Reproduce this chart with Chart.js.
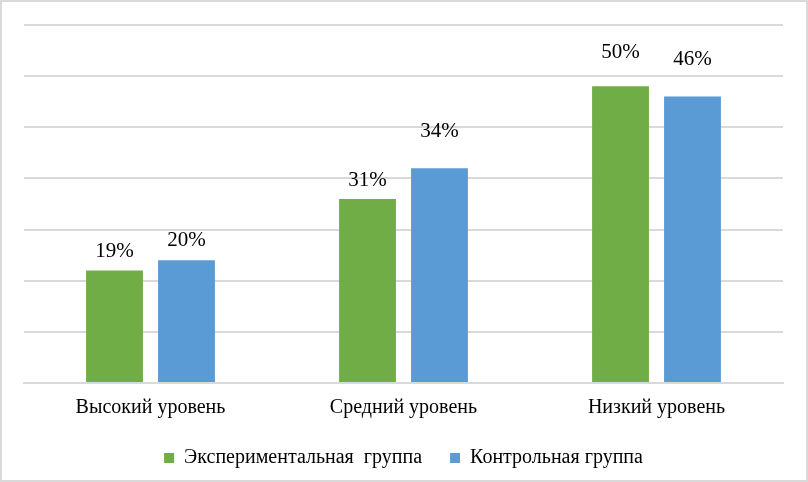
<!DOCTYPE html>
<html>
<head>
<meta charset="utf-8">
<script src="https://cdn.jsdelivr.net/npm/chart.js@4"></script>
<style>
  html, body { margin: 0; padding: 0; background: #fff; }
  #chart-container { width: 808px; height: 482px; }
</style>
</head>
<body>
<div id="chart-container"><canvas id="chart" width="808" height="482"></canvas></div>
<script>
const categories = ["Высокий уровень", "Средний уровень", "Низкий уровень"];
const seriesNames = ["Экспериментальная  группа", "Контрольная группа"];
// bar heights (axis units, grid step 10)
const experimentalValues = [22, 36, 58];
const controlValues = [24, 42, 56];
// data label texts as printed above the bars
const experimentalLabels = ["19%", "31%", "50%"];
const controlLabels = ["20%", "34%", "46%"];

// label distance above each bar top, px (labels were moved by hand in the source)
const labelOffsets = [[13, 13, 28], [14, 31, 32]];
const serif = "'Liberation Serif', 'Times New Roman', serif";

const frame = {
  id: "frame",
  beforeDraw(chart) {
    const ctx = chart.ctx;
    ctx.save();
    ctx.fillStyle = "#fff";
    ctx.fillRect(0, 0, chart.width, chart.height);
    ctx.strokeStyle = "#d9d9d9";
    ctx.lineWidth = 2;
    ctx.strokeRect(1, 1, chart.width - 2, chart.height - 2);
    ctx.restore();
  }
};

const barLabels = {
  id: "barLabels",
  afterDatasetsDraw(chart) {
    const ctx = chart.ctx;
    const texts = [experimentalLabels, controlLabels];
    ctx.save();
    ctx.font = "21px " + serif;
    ctx.fillStyle = "#000";
    ctx.textAlign = "center";
    ctx.textBaseline = "alphabetic";
    chart.data.datasets.forEach((ds, i) => {
      chart.getDatasetMeta(i).data.forEach((bar, j) => {
        ctx.fillText(texts[i][j], bar.x, bar.y - labelOffsets[i][j]);
      });
    });
    ctx.restore();
  }
};

new Chart(document.getElementById("chart"), {
  type: "bar",
  data: {
    labels: categories,
    datasets: [
      { label: seriesNames[0], data: experimentalValues, backgroundColor: "#70ad47" },
      { label: seriesNames[1], data: controlValues, backgroundColor: "#5b9bd5" }
    ]
  },
  options: {
    responsive: false,
    animation: false,
    devicePixelRatio: 1,
    barPercentage: 0.79,
    categoryPercentage: 0.569,
    layout: { padding: { left: 24, right: 25, top: 25, bottom: 4 } },
    scales: {
      x: {
        grid: { display: false, drawTicks: false },
        border: { display: true, color: "#d9d9d9", width: 2 },
        ticks: { color: "#000", padding: 13, maxRotation: 0, font: { family: serif, size: 20 } },
        // chart.js counts the tick padding twice here, trim the band to label + padding
        afterFit(scale) { scale.height = 37; }
      },
      y: {
        min: 0,
        max: 70,
        ticks: { display: false, stepSize: 10 },
        border: { display: false },
        grid: { color: "#d9d9d9", lineWidth: 2, drawTicks: false }
      }
    },
    plugins: {
      legend: {
        position: "bottom",
        labels: {
          boxWidth: 10,
          boxHeight: 10,
          padding: 28,
          color: "#000",
          font: { family: serif, size: 20 }
        }
      },
      tooltip: { enabled: false }
    }
  },
  plugins: [frame, barLabels]
});
</script>
</body>
</html>
